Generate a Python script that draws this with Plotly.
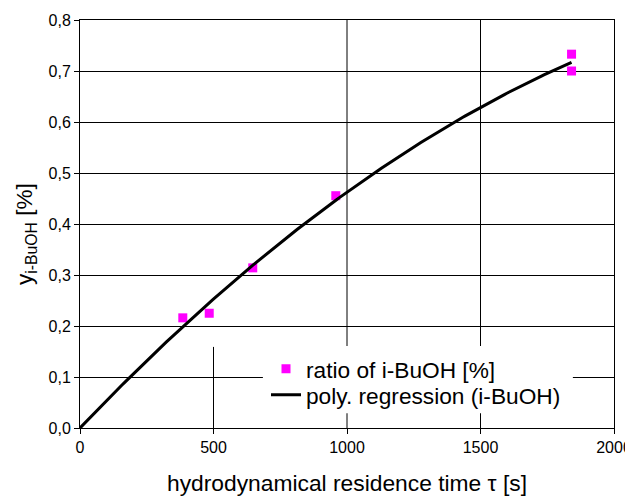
import numpy as np
import plotly.graph_objects as go

tau_s = [385, 484, 647, 958, 1841, 1841]
ratio_ibuoh = [0.216, 0.225, 0.314, 0.4555, 0.733, 0.700]

x_tick_vals = [0, 500, 1000, 1500, 2000]
x_tick_text = ["0", "500", "1000", "1500", "2000"]
y_tick_vals = [0.0, 0.1, 0.2, 0.3, 0.4, 0.5, 0.6, 0.7, 0.8]
y_tick_text = ["0,0", "0,1", "0,2", "0,3", "0,4", "0,5", "0,6", "0,7", "0,8"]

# polynomial regression (2nd order, through origin) of the measured points
tx = np.array(tau_s, dtype=float)
ty = np.array(ratio_ibuoh, dtype=float)
A = np.column_stack([tx, tx ** 2])
coef, *_ = np.linalg.lstsq(A, ty, rcond=None)
fit_x = np.linspace(0, tx.max(), 200)
fit_y = coef[0] * fit_x + coef[1] * fit_x ** 2

FONT = "Liberation Sans, Arial, sans-serif"

# page body has an 8px margin: compensate so plot area sits at x 80..614, y 20..428
OFF = 8
W, H = 633 - OFF, 498 - OFF
ML, MR, MT, MB = 80 - OFF, 19, 20 - OFF, 70


def px_x(px):
    return (px - 80) / 534


def px_y(py):
    return (428 - py) / 408


fig = go.Figure()
fig.add_trace(go.Scatter(
    x=tau_s, y=ratio_ibuoh, mode="markers", name="ratio of i-BuOH [%]",
    marker=dict(symbol="square", size=9, color="#FF00FF"), legend="legend",
))
fig.add_trace(go.Scatter(
    x=fit_x, y=fit_y, mode="lines", name="poly. regression (i-BuOH)",
    line=dict(color="black", width=3), legend="legend2",
))

shapes = [
    dict(type="line", xref="x", yref="y", x0=500, x1=500, y0=0, y1=0.159,
         line=dict(color="black", width=1), layer="below"),
    dict(type="line", xref="x", yref="y", x0=1000, x1=1000, y0=0, y1=0.8,
         line=dict(color="black", width=1), layer="below"),
    dict(type="line", xref="x", yref="y", x0=1500, x1=1500, y0=0, y1=0.8,
         line=dict(color="black", width=1), layer="below"),
    dict(type="rect", xref="x", yref="y", x0=685, x1=1846, y0=0.029, y1=0.161,
         fillcolor="white", line=dict(width=0), layer="above"),
]

legend_common = dict(
    xanchor="left", yanchor="middle",
    bgcolor="rgba(0,0,0,0)", borderwidth=0,
    font=dict(family=FONT, size=22.7, color="black"),
)

fig.update_layout(
    width=W, height=H,
    margin=dict(l=ML, r=MR, t=MT, b=MB, autoexpand=False),
    paper_bgcolor="white", plot_bgcolor="white",
    font=dict(family=FONT, size=16, color="black"),
    showlegend=True,
    legend=dict(x=px_x(266), y=px_y(369), **legend_common),
    legend2=dict(x=px_x(266), y=px_y(395), **legend_common),
    shapes=shapes,
    annotations=[
        dict(text="hydrodynamical residence time τ [s]", xref="paper", yref="paper",
             x=0.5, y=px_y(483), xanchor="center", yanchor="middle",
             showarrow=False, font=dict(family=FONT, size=22.8, color="black")),
        dict(text="y<sub>i-BuOH</sub> [%]", xref="paper", yref="paper",
             x=px_x(26), y=px_y(234), xanchor="center", yanchor="middle",
             textangle=-90, showarrow=False,
             font=dict(family=FONT, size=22.5, color="black")),
    ],
)
fig.update_xaxes(
    range=[0, 2000], tickvals=x_tick_vals, ticktext=x_tick_text,
    showgrid=False, zeroline=False, showline=True, linecolor="black", linewidth=1,
    mirror=True, ticks="outside", ticklen=5, tickcolor="black",
    tickfont=dict(family=FONT, size=16, color="black"),
)
fig.update_yaxes(
    range=[0, 0.8], tickvals=y_tick_vals, ticktext=y_tick_text,
    showgrid=True, gridcolor="black", gridwidth=1, zeroline=False,
    showline=True, linecolor="black", linewidth=1,
    mirror=True, ticks="outside", ticklen=5, tickcolor="black",
    tickfont=dict(family=FONT, size=16, color="black"),
)

fig.write_html("out.html")
